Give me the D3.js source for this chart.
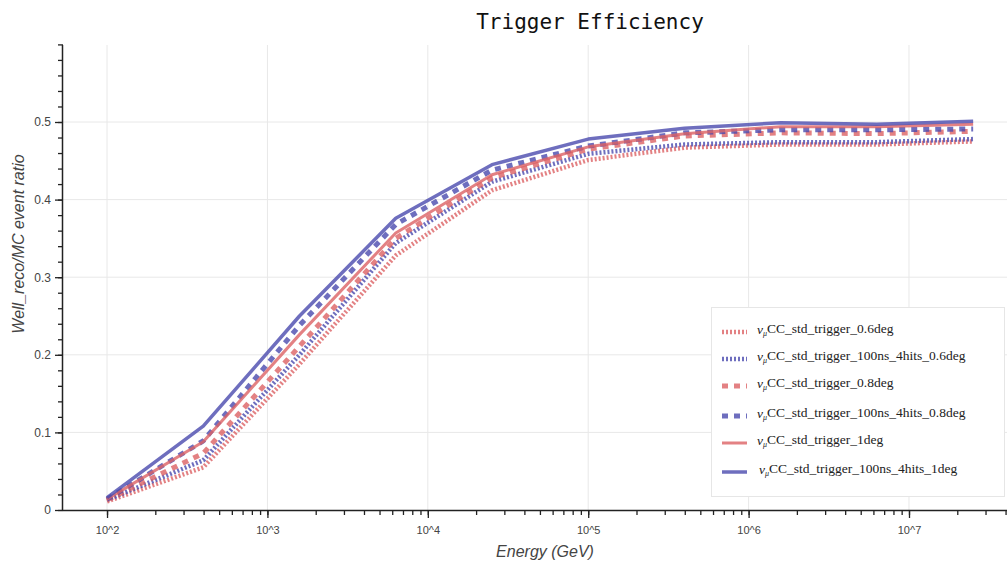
<!DOCTYPE html>
<html>
<head>
<meta charset="utf-8">
<script src="https://cdn.jsdelivr.net/npm/d3@7"></script>
<style>
  body { margin: 0; background: #fff; }
  svg { display: block; }
</style>
</head>
<body>
<svg id="chart"></svg>
<script>
/* Data */
var energies = [1e2, 3.98e2, 1.585e3, 6.31e3, 2.512e4, 1e5, 3.98e5, 1.585e6, 6.31e6, 2.512e7]

var red06  = [0.011, 0.055, 0.188, 0.328, 0.412, 0.451, 0.467, 0.471, 0.471, 0.475]
var blue06 = [0.013, 0.064, 0.200, 0.344, 0.423, 0.459, 0.471, 0.474, 0.474, 0.478]
var red08  = [0.013, 0.073, 0.211, 0.350, 0.428, 0.465, 0.482, 0.486, 0.485, 0.488]
var blue08 = [0.014, 0.089, 0.238, 0.368, 0.438, 0.469, 0.486, 0.490, 0.490, 0.491]
var red1   = [0.014, 0.088, 0.226, 0.357, 0.432, 0.468, 0.485, 0.494, 0.494, 0.497]
var blue1  = [0.016, 0.108, 0.250, 0.376, 0.445, 0.478, 0.492, 0.499, 0.497, 0.501]

var seriesNames = [
    "CC_std_trigger_0.6deg",
    "CC_std_trigger_100ns_4hits_0.6deg",
    "CC_std_trigger_0.8deg",
    "CC_std_trigger_100ns_4hits_0.8deg",
    "CC_std_trigger_1deg",
    "CC_std_trigger_100ns_4hits_1deg"
]
var seriesValues = [red06, blue06, red08, blue08, red1, blue1]

var xTickExps = [2, 3, 4, 5, 6, 7]
var yTickLabels = [0, 0.1, 0.2, 0.3, 0.4, 0.5]

/* Styles */
var RED = "#dc6264"
var BLUE = "#4a4aae"
var styles = [
    { color: RED,  dash: "2,2", width: 4.5 },
    { color: BLUE, dash: "2,2", width: 4.5 },
    { color: RED,  dash: "6,6", width: 5 },
    { color: BLUE, dash: "6,6", width: 5 },
    { color: RED,  dash: null,  width: 3 },
    { color: BLUE, dash: null,  width: 3.5 }
]

var width = 1007
var height = 565
var pLeft = 63, pRight = 1007, pTop = 45, pBottom = 510

var svg = d3.select("#chart")
    .attr("width", width)
    .attr("height", height)

/* Scales */
var xScale = d3.scaleLog()
    .domain([Math.pow(10, 1.7255), Math.pow(10, 7.611)])
    .range([pLeft, pRight])

var yScale = d3.scaleLinear()
    .domain([0, 0.6])
    .range([pBottom, pBottom - 0.6 * 776])

/* Grid */
var grid = svg.append("g")
grid.selectAll("line.vg")
    .data(xTickExps)
    .enter().append("line")
    .attr("x1", (d) => xScale(Math.pow(10, d)))
    .attr("x2", (d) => xScale(Math.pow(10, d)))
    .attr("y1", pTop)
    .attr("y2", pBottom)
    .attr("stroke", "#e8e8e8")
    .attr("stroke-width", 1)

grid.selectAll("line.hg")
    .data(yTickLabels.slice(1))
    .enter().append("line")
    .attr("x1", pLeft)
    .attr("x2", pRight)
    .attr("y1", (d) => yScale(d))
    .attr("y2", (d) => yScale(d))
    .attr("stroke", "#e8e8e8")
    .attr("stroke-width", 1)

/* Lines */
svg.append("clipPath").attr("id", "clip")
    .append("rect")
    .attr("x", pLeft).attr("y", pTop)
    .attr("width", pRight - pLeft).attr("height", pBottom - pTop)

var line = d3.line()
    .x((d) => xScale(d[0]))
    .y((d) => yScale(d[1]))

svg.append("g")
    .attr("clip-path", "url(#clip)")
    .selectAll("path")
    .data(seriesValues)
    .enter().append("path")
    .attr("d", (vals) => line(vals.map((v, i) => [energies[i], v])))
    .attr("fill", "none")
    .attr("stroke", (d, i) => styles[i].color)
    .attr("stroke-opacity", 0.8)
    .attr("stroke-width", (d, i) => styles[i].width)
    .attr("stroke-dasharray", (d, i) => styles[i].dash)
    .attr("stroke-linejoin", "round")

/* X axis */
var xMinor = []
for (var e = 2; e <= 7; e++) {
    for (var m = 1; m <= 9; m++) {
        var v = m * Math.pow(10, e)
        if (v <= xScale.domain()[1]) xMinor.push(v)
    }
}

var xAxisMinor = d3.axisBottom(xScale)
    .tickValues(xMinor)
    .tickSize(5)
    .tickFormat("")

var xAxisMajor = d3.axisBottom(xScale)
    .tickValues(xTickExps.map((d) => Math.pow(10, d)))
    .tickSize(8)
    .tickPadding(8)
    .tickFormat((d) => "10^" + Math.round(Math.log10(d)))

var gxMinor = svg.append("g")
    .attr("transform", "translate(0," + pBottom + ")")
    .call(xAxisMinor)
gxMinor.select(".domain").remove()
gxMinor.selectAll("line").attr("stroke", "#222").attr("stroke-width", 1.3)

var gx = svg.append("g")
    .attr("transform", "translate(0," + pBottom + ")")
    .call(xAxisMajor)
gx.select(".domain").attr("d", "M" + pLeft + ",0.5H" + pRight).attr("stroke", "#222").attr("stroke-width", 1.5)
gx.selectAll("line").attr("stroke", "#222").attr("stroke-width", 1.3)
gx.selectAll("text")
    .attr("font-family", "Liberation Sans, Arial, sans-serif")
    .attr("font-size", 11)
    .attr("fill", "#444")

/* Y axis */
var yMinor = d3.range(0, 31).map((d) => d * 0.02)

var yAxisMinor = d3.axisLeft(yScale)
    .tickValues(yMinor)
    .tickSize(5)
    .tickFormat("")

var yAxisMajor = d3.axisLeft(yScale)
    .tickValues(yTickLabels)
    .tickSize(8)
    .tickPadding(4)
    .tickFormat((d) => d === 0 ? "0" : d3.format(".1f")(d))

var gyMinor = svg.append("g")
    .attr("transform", "translate(" + pLeft + ",0)")
    .call(yAxisMinor)
gyMinor.select(".domain").remove()
gyMinor.selectAll("line").attr("stroke", "#222").attr("stroke-width", 1.3)

var gy = svg.append("g")
    .attr("transform", "translate(" + pLeft + ",0)")
    .call(yAxisMajor)
gy.select(".domain").attr("d", "M-0.5," + pTop + "V" + pBottom).attr("stroke", "#222").attr("stroke-width", 1.5)
gy.selectAll("line").attr("stroke", "#222").attr("stroke-width", 1.3)
gy.selectAll("text")
    .attr("font-family", "Liberation Sans, Arial, sans-serif")
    .attr("font-size", 12)
    .attr("fill", "#444")

/* Titles */
svg.append("text")
    .attr("x", 590)
    .attr("y", 29)
    .attr("text-anchor", "middle")
    .attr("font-family", "DejaVu Sans Mono, monospace")
    .attr("font-size", 21)
    .attr("fill", "#111")
    .text("Trigger Efficiency")

svg.append("text")
    .attr("x", 545)
    .attr("y", 557)
    .attr("text-anchor", "middle")
    .attr("font-family", "Liberation Sans, Arial, sans-serif")
    .attr("font-style", "italic")
    .attr("font-size", 16)
    .attr("fill", "#444")
    .text("Energy (GeV)")

svg.append("text")
    .attr("transform", "translate(24,244) rotate(-90)")
    .attr("text-anchor", "middle")
    .attr("font-family", "Liberation Sans, Arial, sans-serif")
    .attr("font-style", "italic")
    .attr("font-size", 16)
    .attr("fill", "#444")
    .text("Well_reco/MC event ratio")

/* Legend */
var legend = svg.append("g")
legend.append("rect")
    .attr("x", 711.5).attr("y", 307.5)
    .attr("width", 293).attr("height", 189)
    .attr("fill", "#fff")
    .attr("stroke", "#e6e6e6")

var rowY = [332, 359, 386, 416, 443, 472]

var rows = legend.selectAll("g.row")
    .data(seriesNames)
    .enter().append("g")
    .attr("transform", (d, i) => "translate(0," + rowY[i] + ")")

rows.append("line")
    .attr("x1", 722).attr("x2", 747)
    .attr("y1", 0).attr("y2", 0)
    .attr("stroke", (d, i) => styles[i].color)
    .attr("stroke-opacity", 0.8)
    .attr("stroke-width", (d, i) => styles[i].width)
    .attr("stroke-dasharray", (d, i) => styles[i].dash)

var labels = rows.append("text")
    .attr("x", (d, i) => i === 5 ? 759 : 757)
    .attr("y", -2)
    .attr("dy", "0.3em")
    .attr("font-family", "Liberation Serif, Times New Roman, serif")
    .attr("font-size", 13.5)
    .attr("fill", "#222")

labels.append("tspan").attr("font-style", "italic").text("ν")
labels.append("tspan").attr("font-style", "italic").attr("font-size", 8).attr("dy", "0.25em").text("μ")
labels.append("tspan").attr("dy", "-0.2em").text((d) => d)
</script>
</body>
</html>
